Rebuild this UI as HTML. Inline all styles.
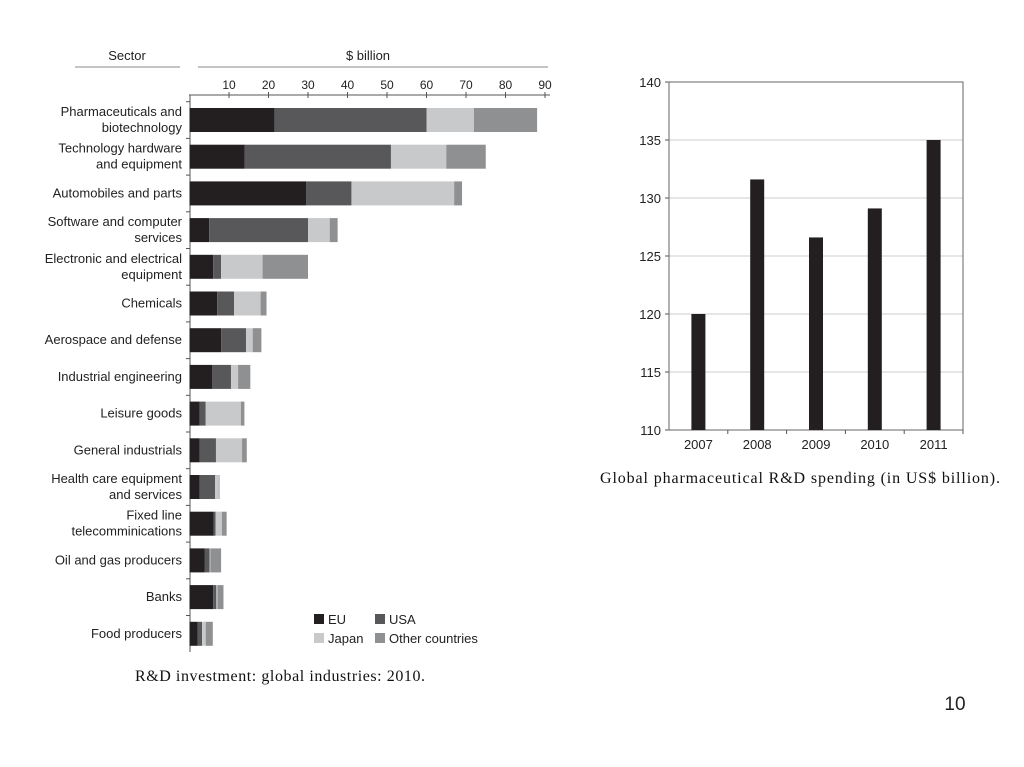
<!DOCTYPE html>
<html><head><meta charset="utf-8"><style>
body{margin:0;background:#fff;width:1024px;height:767px;overflow:hidden;}
svg{display:block}
.s{font-family:"Liberation Sans",sans-serif;fill:#222}
.r{font-family:"Liberation Serif",serif;fill:#111}
</style></head><body>
<svg id="c" width="1024" height="767">
<text class="s" x="127" y="60" font-size="13" text-anchor="middle">Sector</text>
<line x1="75" y1="67" x2="180" y2="67" stroke="#888"/>
<text class="s" x="368" y="60" font-size="13" text-anchor="middle">$ billion</text>
<line x1="198" y1="67" x2="548" y2="67" stroke="#888"/>
<text class="r" x="135" y="681" font-size="16" textLength="290" lengthAdjust="spacing">R&amp;D investment: global industries: 2010.</text>
<text class="r" x="600" y="483" font-size="16" textLength="400" lengthAdjust="spacing">Global pharmaceutical R&amp;D spending (in US$ billion).</text>
<text x="955" y="710" font-size="19" font-family="Liberation Sans,sans-serif" text-anchor="middle" fill="#222">10</text>
<g id="left"></g><g id="right"></g>
</svg>
<script>
const sectors=["Pharmaceuticals and|biotechnology","Technology hardware|and equipment","Automobiles and parts","Software and computer|services","Electronic and electrical|equipment","Chemicals","Aerospace and defense","Industrial engineering","Leisure goods","General industrials","Health care equipment|and services","Fixed line|telecomminications","Oil and gas producers","Banks","Food producers"];
const euVals=[21.5,14,29.5,5,6,7,8,5.7,2.6,2.6,2.6,6.1,3.8,6,2.1];
const usaVals=[38.5,37,11.5,25,2,4.3,6.3,4.8,1.5,4.1,3.9,0.5,1.3,0.8,1.1];
const japanVals=[12,14,26,5.5,10.5,6.7,1.7,1.8,8.9,6.6,0.9,1.6,0.2,0.3,0.9];
const otherVals=[16,10,2,2,11.5,1.5,2.2,3.1,0.9,1.2,0.2,1.2,2.7,1.5,1.8];
const xTicks=[10,20,30,40,50,60,70,80,90];
const years=["2007","2008","2009","2010","2011"];
const spending=[120,131.6,126.6,129.1,135];
const yTicks=[110,115,120,125,130,135,140];
const NS="http://www.w3.org/2000/svg";
function mk(p,t,a){const e=document.createElementNS(NS,t);for(const k in a)e.setAttribute(k,a[k]);p.appendChild(e);return e;}
const L=document.getElementById('left');
const x=v=>189.5+v*3.95, y=i=>120+i*36.7;
let ax=mk(L,'line',{x1:189,y1:95,x2:550,y2:95,stroke:'#555'});


let ay=mk(L,'line',{x1:190,y1:95,x2:190,y2:652,stroke:'#555'});


xTicks.forEach(t=>{mk(L,'line',{x1:x(t),y1:92,x2:x(t),y2:98,stroke:'#555'});
 const tx=mk(L,'text',{x:x(t),y:89,'font-size':12,'text-anchor':'middle',class:'s'});tx.textContent=t;
 
 });
const cols=['#231f20','#58585a','#c8c9ca','#8f9092'];
const series=[euVals,usaVals,japanVals,otherVals];
sectors.forEach((s,i)=>{
 mk(L,'line',{x1:186,y1:y(i)-18.3,x2:190,y2:y(i)-18.3,stroke:'#555'});
 let acc=0;
 series.forEach((sv,k)=>{const r=mk(L,'rect',{x:x(acc),y:y(i)-12,width:sv[i]*3.95,height:24,fill:cols[k]});
  
  acc+=sv[i];});
 const parts=s.split('|');
 parts.forEach((p,j)=>{const t=mk(L,'text',{x:182,y:y(i)+4+(parts.length==2?(j==0?-8:8):0),'font-size':13,'text-anchor':'end',class:'s'});t.textContent=p;
  
  });
});
const leg=[["EU",314,624],["USA",375,624],["Japan",314,643],["Other countries",375,643]];
leg.forEach((l,k)=>{mk(L,'rect',{x:l[1],y:l[2]-10,width:10,height:10,fill:cols[k]});
 const t=mk(L,'text',{x:l[1]+14,y:l[2],'font-size':13,class:'s'});t.textContent=l[0];
 
 });
const R=document.getElementById('right');
const X0=669,X1=963,Y0=430,Y1=82;
const yy=v=>Y0-(v-110)/30*(Y0-Y1);
yTicks.forEach(t=>{if(t>110)mk(R,'line',{x1:X0,y1:yy(t),x2:X1,y2:yy(t),stroke:'#ccc'});
 mk(R,'line',{x1:X0-4,y1:yy(t),x2:X0,y2:yy(t),stroke:'#555'});
 const tx=mk(R,'text',{x:X0-8,y:yy(t)+5,'font-size':13,'text-anchor':'end',class:'s'});tx.textContent=t;
 
 });
const fr=mk(R,'rect',{x:X0,y:Y1,width:X1-X0,height:Y0-Y1,fill:'none',stroke:'#666'});


const bw=(X1-X0)/years.length;
years.forEach((yr,i)=>{const cx=X0+bw*(i+0.5);
 mk(R,'line',{x1:X0+bw*(i+1),y1:Y0,x2:X0+bw*(i+1),y2:Y0+4,stroke:'#555'});
 const b=mk(R,'rect',{x:cx-7,y:yy(spending[i]),width:14,height:Y0-yy(spending[i]),fill:'#231f20'});
 
 
 const t=mk(R,'text',{x:cx,y:449,'font-size':13,'text-anchor':'middle',class:'s'});t.textContent=yr;
 
 });
</script>
</body></html>
